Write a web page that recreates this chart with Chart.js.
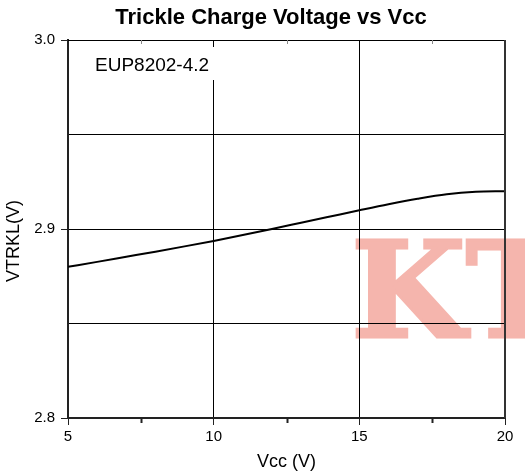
<!DOCTYPE html>
<html>
<head>
<meta charset="utf-8">
<script src="https://cdn.jsdelivr.net/npm/chart.js@4/dist/chart.umd.min.js"></script>
<style>
  html, body { margin: 0; padding: 0; background: #fff; }
</style>
</head>
<body>
<canvas id="grafico" width="525" height="473"></canvas>
<script>
// Datos (Vcc en V, VTRKL en V)
const vcc = [5, 6, 7, 8, 9, 10, 11, 12, 13, 14, 15, 16, 17, 18, 19, 20];
const vtrkl = [2.8800, 2.8826, 2.8853, 2.8880, 2.8908, 2.8937, 2.8968, 2.9000, 2.9033, 2.9066, 2.9099, 2.9131, 2.9160, 2.9184, 2.9197, 2.9200];
const ticksX = [5, 10, 15, 20];
const menoresX = [7.5, 12.5, 17.5];
const ticksY = [2.8, 2.9, 3.0];
const lineasY = [2.85, 2.9, 2.95];
const titulo = 'Trickle Charge Voltage vs Vcc';
const tituloX = 'Vcc (V)';
const tituloY = 'VTRKL(V)';
const etiqueta = 'EUP8202-4.2';
const marcaAgua = 'KT';

Chart.defaults.font.family = '"Liberation Sans", Arial, sans-serif';
Chart.defaults.color = '#000';

const cerca = (v, lista) => lista.some(t => Math.abs(v - t) < 1e-6);

// Título, marca de agua, cuadro de texto, marcas menores y bordes superior/derecho
const decoracion = {
  id: 'decoracion',
  beforeDraw(chart) {
    const c = chart.ctx;
    c.save();
    c.fillStyle = '#fff';
    c.fillRect(0, 0, chart.width, chart.height);
    c.font = 'bold 132px "DejaVu Serif", serif';
    c.fillStyle = '#f5b5ad';
    c.strokeStyle = '#f5b5ad';
    c.lineWidth = 3;
    c.lineJoin = 'miter';
    c.textBaseline = 'alphabetic';
    c.fillText(marcaAgua, 351, 337);
    c.strokeText(marcaAgua, 351, 337);
    c.restore();
  },
  afterDraw(chart) {
    const c = chart.ctx;
    const a = chart.chartArea;
    const sx = chart.scales.x;
    c.save();
    // bordes
    c.strokeStyle = '#000';
    c.lineWidth = 1;
    c.beginPath();
    c.moveTo(a.left, a.top + 0.5);
    c.lineTo(a.right, a.top + 0.5);
    c.stroke();
    c.strokeStyle = '#333';
    c.lineWidth = 2;
    c.beginPath();
    c.moveTo(a.right, a.top);
    c.lineTo(a.right, a.bottom);
    c.stroke();
    // marcas menores arriba y abajo
    menoresX.forEach(v => {
      const px = Math.round(sx.getPixelForValue(v)) + 0.5;
      c.strokeStyle = '#888';
      c.lineWidth = 1;
      c.beginPath();
      c.moveTo(px, a.top);
      c.lineTo(px, a.top + 4);
      c.stroke();
      c.strokeStyle = '#222';
      c.lineWidth = 2;
      c.beginPath();
      c.moveTo(px, a.bottom);
      c.lineTo(px, a.bottom + 5);
      c.stroke();
    });
    // cuadro de la etiqueta
    c.fillStyle = '#fff';
    c.fillRect(88, 47, 130, 33);
    c.fillStyle = '#000';
    c.font = '19px "Liberation Sans", Arial, sans-serif';
    c.textBaseline = 'alphabetic';
    c.fillText(etiqueta, 95, 71);
    // título
    c.font = 'bold 22px "Liberation Sans", Arial, sans-serif';
    c.textAlign = 'center';
    c.fillText(titulo, 271, 24);
    // título eje Y
    c.translate(14, 241);
    c.rotate(-Math.PI / 2);
    c.font = '18px "Liberation Sans", Arial, sans-serif';
    c.textBaseline = 'middle';
    c.fillText(tituloY, 0, 0);
    c.restore();
  }
};

const ctx = document.getElementById('grafico').getContext('2d');
const grafico = new Chart(ctx, {
  type: 'line',
  data: {
    datasets: [{
      data: vcc.map((x, i) => ({ x: x, y: vtrkl[i] })),
      borderColor: '#000',
      borderWidth: 2,
      pointRadius: 0,
      fill: false,
      cubicInterpolationMode: 'monotone'
    }]
  },
  options: {
    responsive: false,
    animation: false,
    devicePixelRatio: 1,
    layout: { padding: { top: 40, right: 20, left: 0, bottom: 0 } },
    plugins: {
      legend: { display: false },
      title: { display: false },
      tooltip: { enabled: false }
    },
    scales: {
      x: {
        type: 'linear',
        min: 5,
        max: 20,
        afterFit: s => { s.height = 55; },
        ticks: {
          stepSize: 2.5,
          autoSkip: false,
          maxRotation: 0,
          padding: 3,
          font: { size: 15 },
          callback: v => cerca(v, ticksX) ? String(v) : ''
        },
        grid: {
          color: c => (c.tick && cerca(c.tick.value, [10, 15])) ? '#000' : 'rgba(0,0,0,0)',
          tickColor: c => (c.tick && cerca(c.tick.value, ticksX)) ? '#222' : 'rgba(0,0,0,0)',
          tickLength: 7,
          lineWidth: 1
        },
        border: { color: '#222', width: 2 },
        title: {
          display: true,
          text: tituloX,
          font: { size: 18 },
          padding: { top: 2, bottom: 0 }
        }
      },
      y: {
        min: 2.8,
        max: 3.0,
        afterFit: s => { s.width = 68; },
        ticks: {
          stepSize: 0.05,
          autoSkip: false,
          padding: 6,
          font: { size: 15 },
          callback: v => cerca(v, ticksY) ? v.toFixed(1) : ''
        },
        grid: {
          color: c => (c.tick && cerca(c.tick.value, lineasY)) ? '#000' : 'rgba(0,0,0,0)',
          tickColor: c => (c.tick && cerca(c.tick.value, ticksY)) ? '#222' : 'rgba(0,0,0,0)',
          tickLength: 7,
          lineWidth: 1
        },
        border: { color: '#222', width: 2 }
      }
    }
  },
  plugins: [decoracion]
});
</script>
</body>
</html>
